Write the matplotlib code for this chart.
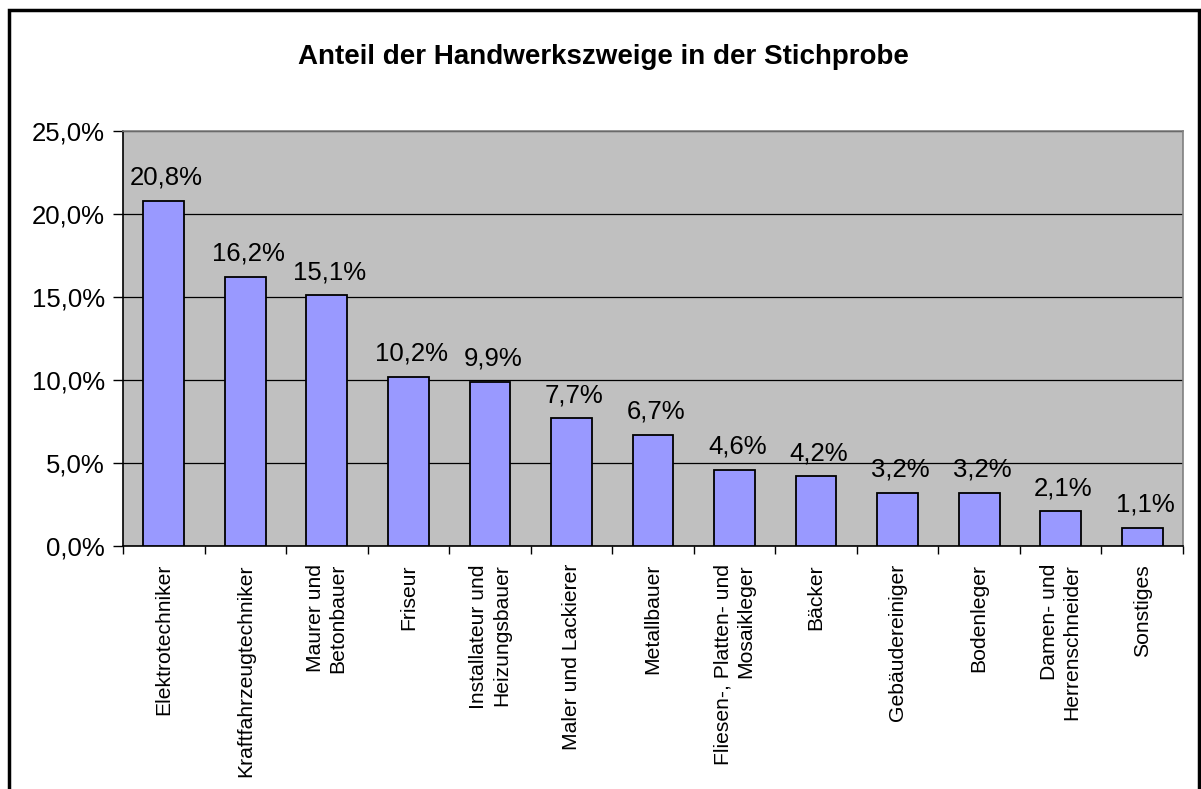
import matplotlib.pyplot as plt
from matplotlib.patches import Rectangle
from matplotlib.ticker import FuncFormatter

# ---------------------------------
# Data
# ---------------------------------
categories = [
    "Elektrotechniker",
    "Kraftfahrzeugtechniker",
    "Maurer und\nBetonbauer",
    "Friseur",
    "Installateur und\nHeizungsbauer",
    "Maler und Lackierer",
    "Metallbauer",
    "Fliesen-, Platten- und\nMosaikleger",
    "Bäcker",
    "Gebäudereiniger",
    "Bodenleger",
    "Damen- und\nHerrenschneider",
    "Sonstiges",
]
shares = [20.8, 16.2, 15.1, 10.2, 9.9, 7.7, 6.7, 4.6, 4.2, 3.2, 3.2, 2.1, 1.1]
y_ticks = [0, 5, 10, 15, 20, 25]

title = "Anteil der Handwerkszweige in der Stichprobe"

# ---------------------------------
# Figure
# ---------------------------------
plt.rcParams["font.family"] = ["Liberation Sans", "DejaVu Sans"]

W, H = 1201, 789
fig = plt.figure(figsize=(W / 100, H / 100), dpi=100)

# chart border
fig.patches.append(Rectangle((9 / W, -0.01), (1199 - 9) / W, (H - 10) / H + 0.01,
                             transform=fig.transFigure, fill=False,
                             edgecolor="black", linewidth=2.5))

left, right, top, bottom = 123, 1183, 131, 546
ax = fig.add_axes([left / W, (H - bottom) / H, (right - left) / W, (bottom - top) / H])
ax.set_facecolor("#C0C0C0")

x = range(len(categories))
bars = ax.bar(x, shares, width=0.5, color="#9999FF", edgecolor="black",
              linewidth=1.3, zorder=3)

for i, v in enumerate(shares):
    ax.annotate(f"{v:.1f}%".replace(".", ","), (i, v), xytext=(2, 8),
                textcoords="offset points", ha="center", va="bottom",
                fontsize=18.5, zorder=4)

ax.set_xlim(-0.5, len(categories) - 0.5)
ax.set_ylim(0, 25)
ax.set_yticks(y_ticks)
ax.yaxis.set_major_formatter(FuncFormatter(lambda v, p: f"{v:.1f}%".replace(".", ",")))
ax.grid(axis="y", color="black", linewidth=0.9, zorder=1)

ax.set_xticks([i + 0.5 for i in range(-1, len(categories))], minor=False)
ax.set_xticklabels([])
ax.set_xticks(list(x), minor=True)
ax.set_xticklabels(categories, minor=True, rotation=90, ha="center", va="top",
                   multialignment="right", fontsize=15.2, linespacing=1.25)
ax.tick_params(axis="x", which="minor", length=0, pad=13)
ax.tick_params(axis="x", which="major", length=6, width=1, direction="out")
ax.tick_params(axis="y", length=7, width=1, direction="out", labelsize=18.5, pad=6)

for s in ["top", "right"]:
    ax.spines[s].set_color("#808080")
    ax.spines[s].set_linewidth(1.2)
for s in ["left", "bottom"]:
    ax.spines[s].set_color("black")
    ax.spines[s].set_linewidth(1.2)

fig.text(603 / W, 1 - 57 / H, title, ha="center", va="center",
         fontsize=20, fontweight="bold")

fig.savefig("out.png", dpi=100)
